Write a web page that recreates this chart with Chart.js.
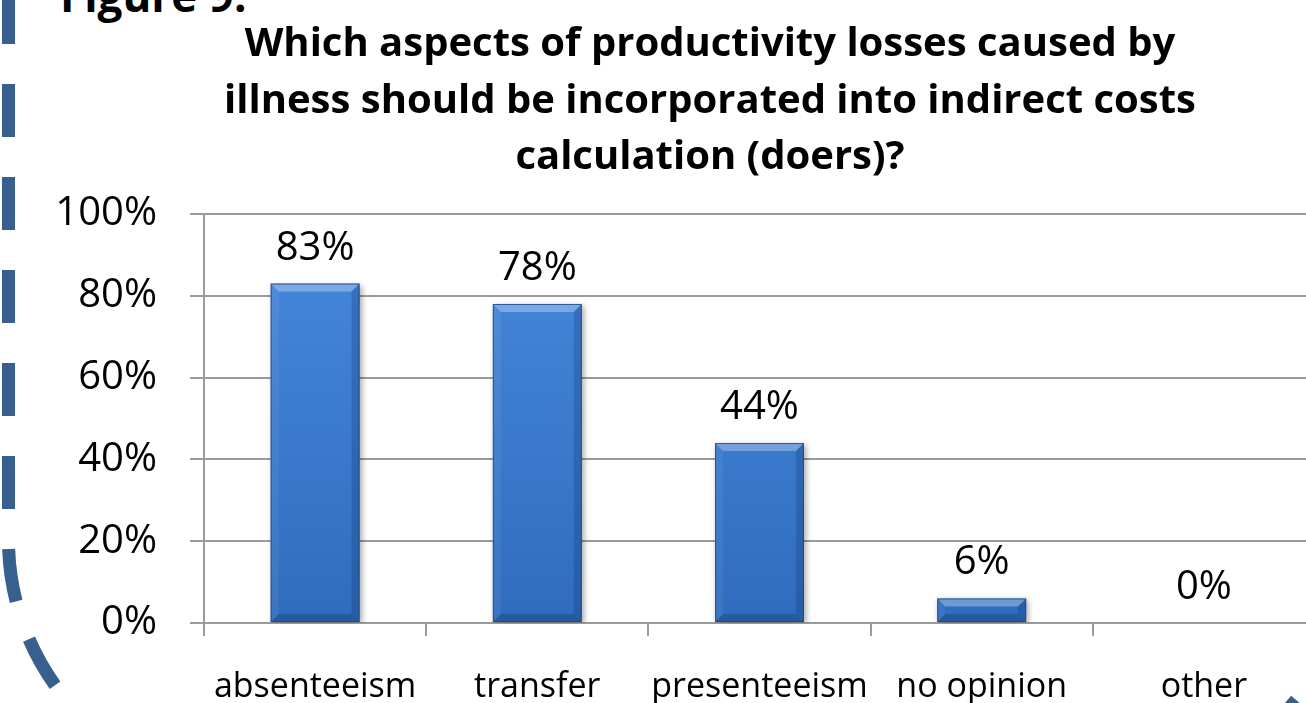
<!DOCTYPE html>
<html>
<head>
<meta charset="utf-8">
<script src="https://cdn.jsdelivr.net/npm/chart.js@4.4.1/dist/chart.umd.min.js"></script>
<style>
  html, body { margin: 0; padding: 0; background: #fff; overflow: hidden; }
  #wrap { position: relative; width: 1306px; height: 703px; overflow: hidden; }
  #box { position: absolute; left: 0; top: 0; width: 1330px; height: 703px; }
  #fig { position: absolute; left: 60px; top: -30px; font: bold 44px "Open Sans", sans-serif; line-height: 50px; color: #000; white-space: nowrap; }
  #frame { position: absolute; left: 0; top: 0; }
</style>
</head>
<body>
<div id="wrap">
  <svg id="frame" width="1306" height="703">
    <path d="M 8.5 -9 L 8.5 540 A 250 250 0 0 0 258.5 790 L 1104 790 A 250 250 0 0 0 1354 540 L 1354 -9"
          fill="none" stroke="#38608f" stroke-width="13" stroke-dasharray="53 40"/>
  </svg>
  <div id="fig">Figure 9:</div>
  <div id="box"><canvas id="chart"></canvas></div>
</div>
<script>
  // Survey answers (doers)
  const categories = ['absenteeism', 'transfer', 'presenteeism', 'no opinion', 'other'];
  const shares = [83, 78, 44, 6, 0];
  const yTicks = [0, 20, 40, 60, 80, 100];
  const titleLines = [
    'Which aspects of productivity losses caused by',
    'illness should be incorporated into indirect costs',
    'calculation (doers)?'
  ];

  const gridColor = '#9b9b9b';

  // Three-line bold heading, centred a little right of the canvas middle
  const heading = {
    id: 'heading',
    afterDraw(chart) {
      const ctx = chart.ctx;
      ctx.save();
      ctx.font = 'bold 40px "Open Sans", sans-serif';
      ctx.fillStyle = '#000';
      ctx.textAlign = 'center';
      ctx.textBaseline = 'middle';
      titleLines.forEach((line, i) => ctx.fillText(line, 710, 45 + i * 56.5));
      ctx.restore();
    }
  };

  // Soft drop shadow under the bars
  const barShadow = {
    id: 'barShadow',
    beforeDatasetsDraw(chart) {
      const ctx = chart.ctx;
      ctx.save();
      ctx.shadowColor = 'rgba(0,0,0,0.35)';
      ctx.shadowBlur = 6;
      ctx.shadowOffsetX = 2;
      ctx.shadowOffsetY = 2;
    },
    afterDatasetsDraw(chart) {
      chart.ctx.restore();
    }
  };

  // Bevelled edges and value labels on top of each bar
  const bevelAndLabels = {
    id: 'bevelAndLabels',
    afterDatasetsDraw(chart) {
      const ctx = chart.ctx;
      const meta = chart.getDatasetMeta(0);
      meta.data.forEach((bar, i) => {
        const { x, y, base, width } = bar.getProps(['x', 'y', 'base', 'width'], true);
        const l = x - width / 2, r = x + width / 2, t = y, b = base;
        const h = b - t;
        if (h > 1) {
          const s = Math.min(8, h / 2);
          ctx.save();
          const poly = (pts, fill) => {
            ctx.beginPath();
            ctx.moveTo(pts[0][0], pts[0][1]);
            for (let k = 1; k < pts.length; k++) ctx.lineTo(pts[k][0], pts[k][1]);
            ctx.closePath();
            ctx.fillStyle = fill;
            ctx.fill();
          };
          poly([[l, t], [r, t], [r - s, t + s], [l + s, t + s]], 'rgba(255,255,255,0.3)');
          poly([[l, t], [l + s, t + s], [l + s, b - s], [l, b]], 'rgba(255,255,255,0.06)');
          poly([[r, t], [r - s, t + s], [r - s, b - s], [r, b]], 'rgba(10,40,90,0.22)');
          poly([[l, b], [l + s, b - s], [r - s, b - s], [r, b]], 'rgba(10,40,90,0.28)');
          ctx.strokeStyle = 'rgba(30,70,130,0.8)';
          ctx.lineWidth = 1;
          ctx.strokeRect(l + 0.5, t + 0.5, width - 1, h - 1);
          ctx.restore();
        }
        ctx.save();
        ctx.font = '40px "Open Sans", sans-serif';
        ctx.fillStyle = '#000';
        ctx.textAlign = 'center';
        ctx.textBaseline = 'alphabetic';
        ctx.fillText(shares[i] + '%', x, y - 24);
        ctx.restore();
      });
    }
  };

  const ctx = document.getElementById('chart').getContext('2d');
  new Chart(ctx, {
    type: 'bar',
    data: {
      labels: categories,
      datasets: [{
        data: shares,
        backgroundColor: (c) => {
          const area = c.chart.chartArea;
          if (!area) return '#3d7fd3';
          const g = c.chart.ctx.createLinearGradient(0, area.top, 0, area.bottom);
          g.addColorStop(0, '#478ade');
          g.addColorStop(1, '#306cbd');
          return g;
        },
        borderWidth: 0,
        barPercentage: 0.4,
        categoryPercentage: 1
      }]
    },
    options: {
      responsive: true,
      maintainAspectRatio: false,
      animation: false,
      layout: { padding: { left: 0, right: 15, top: 214, bottom: 0 } },
      plugins: {
        legend: { display: false },
        tooltip: { enabled: false },
        title: { display: false }
      },
      scales: {
        x: {
          offset: true,
          grid: { offset: true, drawOnChartArea: false, drawTicks: true, tickLength: 13, color: gridColor, lineWidth: 2 },
          border: { display: true, color: gridColor, width: 2 },
          ticks: { color: '#000', font: { family: 'Open Sans', size: 34 }, padding: 31, maxRotation: 0, autoSkip: false },
          afterFit(scale) { scale.height = 80; }
        },
        y: {
          min: 0,
          max: 100,
          afterBuildTicks(scale) { scale.ticks = yTicks.map(v => ({ value: v })); },
          grid: { color: gridColor, lineWidth: 2, tickLength: 14 },
          border: { display: true, color: gridColor, width: 2 },
          ticks: {
            color: '#000',
            font: { family: 'Open Sans', size: 40 },
            padding: 33,
            callback: (v) => v + '%'
          },
          afterFit(scale) { scale.width = 204; }
        }
      }
    },
    plugins: [barShadow, bevelAndLabels, heading]
  });
</script>
</body>
</html>
